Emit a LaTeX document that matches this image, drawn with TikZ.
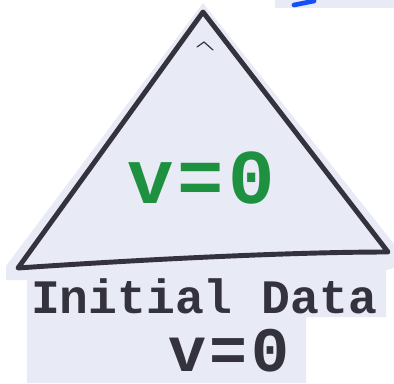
\documentclass[tikz,border=0pt]{standalone}
\usepackage{fontspec}
\setmonofont{Liberation Mono}
\usetikzlibrary{positioning}
\definecolor{inkgray}{HTML}{34323C}
\definecolor{paper}{HTML}{E8EAF6}
\definecolor{markgreen}{HTML}{1E9140}
\definecolor{markblue}{HTML}{1450F5}

\begin{document}
\begin{tikzpicture}[x=0.03cm,y=-0.03cm,
	edge/.style={draw=inkgray,line width=4.2pt,line cap=round,line join=round},
	hand/.style={font=\ttfamily\bfseries\fontsize{41}{44}\selectfont,text=inkgray,inner sep=0pt,text height=25pt,text depth=0pt},
	inside/.style={font=\ttfamily\bfseries\fontsize{66}{70}\selectfont,text=markgreen,inner sep=0pt}
	]
	\useasboundingbox (0,0) rectangle (394,383);
	\fill[paper] (203,3) -- (394,244) -- (394,268) -- (386,270) -- (386,317) -- (306,317) -- (306,383) -- (27,383) -- (27,280) -- (6,280) -- (6,266) -- cycle;
	\fill[paper] (275,0) rectangle (394,8);
	\draw[markblue,line width=4pt,line cap=round] (294,5) -- (314,1);
	\coordinate (apex) at (203,12);
	\coordinate (bl) at (18,268);
	\coordinate (br) at (388,252);
	\draw[edge] (bl) .. controls (120,261) and (280,252) .. (br) -- (apex) -- cycle;
	\draw[inkgray,line width=1pt,line cap=round] (197,47) -- (204,42) -- (213,50);
	\node[inside] (vin) at (201,178) {v\hspace{0.05em}=\hspace{0.05em}0};
	\node[hand,anchor=base] (init) at (204,313) {Initial Data};
	\node[hand,anchor=base,font=\ttfamily\bfseries\fontsize{54}{58}\selectfont,text height=34pt] (vbot) at ([xshift=0.75cm,yshift=-1.75cm]init.base) {v\hspace{0.06em}=\hspace{0.06em}0};
\end{tikzpicture}
\end{document}
